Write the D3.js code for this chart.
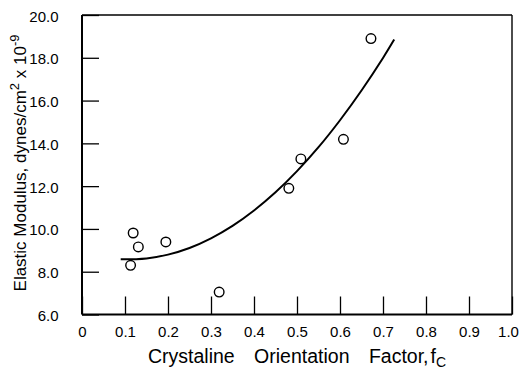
<!DOCTYPE html>
<html>
<head>
<meta charset="utf-8">
<script src="https://cdn.jsdelivr.net/npm/d3@7"></script>
<style>
  html, body { margin: 0; padding: 0; background: #fff; }
  svg { display: block; }
  text { font-family: "Liberation Sans", Arial, sans-serif; fill: #000; }
</style>
</head>
<body>
<svg id="chart" width="521" height="368"></svg>
<script>
// Measured samples: crystalline orientation factor vs. elastic modulus
const orientationFactor = [0.113, 0.119, 0.131, 0.195, 0.319, 0.481, 0.509, 0.608, 0.672];
const elasticModulus   = [8.30, 9.81, 9.16, 9.39, 7.05, 11.90, 13.27, 14.19, 18.90];

// Smooth trend line drawn through the data
const trendX = [0.09, 0.15, 0.20, 0.25, 0.30, 0.35, 0.40, 0.45, 0.50, 0.55, 0.60, 0.65, 0.70, 0.726];
const trendY = [8.58, 8.62, 8.80, 9.11, 9.56, 10.14, 10.86, 11.71, 12.70, 13.82, 15.08, 16.47, 17.99, 18.85];

// Axis ticks and their labels
const xTicks = [0, 0.1, 0.2, 0.3, 0.4, 0.5, 0.6, 0.7, 0.8, 0.9, 1.0];
const xTickLabels = ["0", "0.1", "0.2", "0.3", "0.4", "0.5", "0.6", "0.7", "0.8", "0.9", "1.0"];
const yTicks = [6, 8, 10, 12, 14, 16, 18, 20];
const yTickLabels = ["6.0", "8.0", "10.0", "12.0", "14.0", "16.0", "18.0", "20.0"];

const svg = d3.select("#chart");
const plotLeft = 82, plotRight = 512, plotTop = 15, plotBottom = 314.5;

const x = d3.scaleLinear().domain([0, 1]).range([plotLeft, plotRight]);
const y = d3.scaleLinear().domain([6, 20]).range([plotBottom, plotTop]);

// Axes with inward ticks
const xAxis = d3.axisBottom(x)
  .tickValues(xTicks)
  .tickFormat((d, i) => xTickLabels[i])
  .tickSizeInner(-18).tickSizeOuter(0).tickPadding(11.5);
const yAxis = d3.axisLeft(y)
  .tickValues(yTicks)
  .tickFormat((d, i) => yTickLabels[i])
  .tickSizeInner(-17).tickSizeOuter(0).tickPadding(23.5);

const gx = svg.append("g").attr("transform", `translate(0,${plotBottom})`).call(xAxis);
const gy = svg.append("g").attr("transform", `translate(${plotLeft},0)`).call(yAxis);
[gx, gy].forEach(g => {
  g.attr("font-family", null).attr("font-size", null);
  g.select(".domain").remove();
  g.selectAll(".tick line").attr("stroke", "#000").attr("stroke-width", 1.3);
  g.selectAll(".tick text").style("font-size", "15px").attr("fill", "#000");
});
// keep the last x label inside the page
gx.selectAll(".tick text").filter((d, i) => i === xTicks.length - 1).attr("dx", -4);
gy.selectAll(".tick text").attr("dy", "0.4em");

// Plot frame
const frame = svg.append("g").attr("stroke", "#000").attr("fill", "none");
frame.append("line").attr("x1", plotLeft).attr("x2", plotLeft).attr("y1", plotTop).attr("y2", plotBottom).attr("stroke-width", 2);
frame.append("line").attr("x1", plotLeft).attr("x2", plotRight).attr("y1", plotBottom).attr("y2", plotBottom).attr("stroke-width", 2);
frame.append("line").attr("x1", plotLeft).attr("x2", plotRight).attr("y1", plotTop).attr("y2", plotTop).attr("stroke-width", 1.6);
frame.append("line").attr("x1", plotRight).attr("x2", plotRight).attr("y1", plotTop).attr("y2", plotBottom).attr("stroke-width", 1.4);

// Trend line
const line = d3.line()
  .x(d => x(d[0]))
  .y(d => y(d[1]))
  .curve(d3.curveCatmullRom);
svg.append("path")
  .datum(d3.zip(trendX, trendY))
  .attr("d", line)
  .attr("fill", "none")
  .attr("stroke", "#000")
  .attr("stroke-width", 2);

// Data points
svg.append("g").selectAll("circle")
  .data(d3.zip(orientationFactor, elasticModulus))
  .join("circle")
  .attr("cx", d => x(d[0]))
  .attr("cy", d => y(d[1]))
  .attr("r", 4.8)
  .attr("fill", "#fff")
  .attr("stroke", "#000")
  .attr("stroke-width", 1.4);

// Axis titles
const xTitle = svg.append("text")
  .attr("x", 148)
  .attr("y", 362.5)
  .style("font-size", "19.5px");
xTitle.append("tspan").text("Crystaline");
xTitle.append("tspan").attr("dx", 14).text(" Orientation");
xTitle.append("tspan").attr("dx", 14).text(" Factor,");
xTitle.append("tspan").attr("dx", 2).text("f");
xTitle.append("tspan").attr("dy", 4).style("font-size", "14px").text("C");

const yTitle = svg.append("text")
  .attr("transform", `translate(25.5,163) rotate(-90)`)
  .attr("text-anchor", "middle")
  .style("font-size", "17px");
yTitle.append("tspan").text("Elastic Modulus, dynes/cm");
yTitle.append("tspan").attr("dy", -7).style("font-size", "13px").text("2");
yTitle.append("tspan").attr("dy", 7).text(" x 10");
yTitle.append("tspan").attr("dy", -7).style("font-size", "13px").text("-9");
</script>
</body>
</html>
